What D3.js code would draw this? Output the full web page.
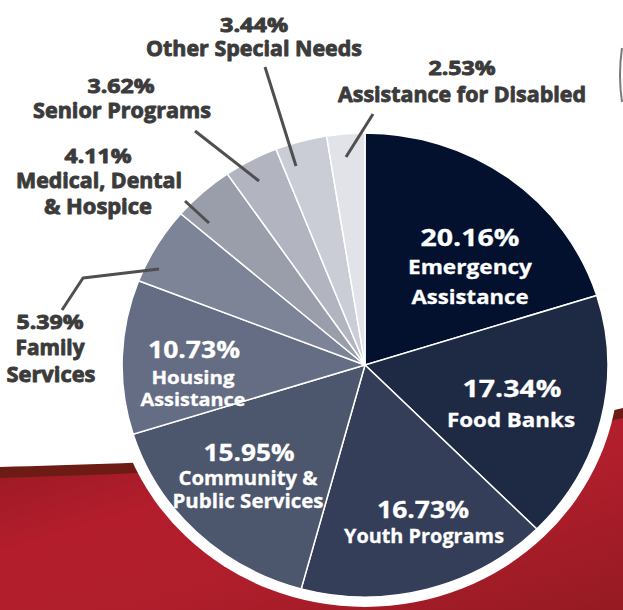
<!DOCTYPE html>
<html>
<head>
<meta charset="utf-8">
<script src="https://cdn.jsdelivr.net/npm/d3@7/dist/d3.min.js"></script>
<style>
  html, body { margin: 0; padding: 0; background: #ffffff; }
  svg { display: block; }
</style>
</head>
<body>
<svg id="chart" width="623" height="610"></svg>
<script>
// ---- data ----
const categories = [
  "Emergency Assistance", "Food Banks", "Youth Programs", "Community & Public Services",
  "Housing Assistance", "Family Services", "Medical, Dental & Hospice", "Senior Programs",
  "Other Special Needs", "Assistance for Disabled"
];
const values = [20.16, 17.34, 16.73, 15.95, 10.73, 5.39, 4.11, 3.62, 3.44, 2.53];
const categoryLines = [
  ["Emergency", "Assistance"], ["Food Banks"], ["Youth Programs"], ["Community &", "Public Services"],
  ["Housing", "Assistance"], ["Family", "Services"], ["Medical, Dental", "& Hospice"], ["Senior Programs"],
  ["Other Special Needs"], ["Assistance for Disabled"]
];
const colors = ["#03112f", "#1e2944", "#343e58", "#4c566d", "#646d83",
                "#7e8497", "#9a9eab", "#b2b5bf", "#cacdd5", "#e2e3e8"];

// ---- layout (label placement: [x, baseline, fontSize, width]) ----
const labelLayout = [
  { inside: true,  pct: [470, 246, 24, 99],  lines: [[470, 274, 20, 124], [470, 304, 20, 117]] },
  { inside: true,  pct: [512, 397, 24, 99],  lines: [[511, 427, 20, 128]] },
  { inside: true,  pct: [423, 518, 24, 92],  lines: [[424, 543, 20, 160]] },
  { inside: true,  pct: [249, 461, 24, 91],  lines: [[248, 485, 19, 139], [248, 508, 19, 151]] },
  { inside: true,  pct: [194, 358, 24, 92],  lines: [[193, 384, 17, 83], [193, 406, 18, 105]] },
  { inside: false, pct: [50, 329, 20, 67],   lines: [[50, 355, 22, 69], [51, 382, 22, 89]] },
  { inside: false, pct: [98, 163, 20, 67],   lines: [[99, 188, 22, 166], [98, 214, 22, 108]] },
  { inside: false, pct: [121, 93, 20, 67],   lines: [[122, 118, 22, 178]] },
  { inside: false, pct: [254, 32, 20, 68],   lines: [[254, 56, 22, 216]] },
  { inside: false, pct: [462, 75, 20, 67],   lines: [[462, 102, 22, 248]] }
];
const leaders = [
  null, null, null, null, null,
  [[62, 310], [83, 278], [159, 269]],
  [[185, 201], [209, 223]],
  [[195, 131], [259, 181]],
  [[265, 67], [296, 166]],
  [[373, 114], [346, 157]]
];

const cx = 365, cy = 365, ry = 232, sx = 1.047;

const svg = d3.select("#chart");
const defs = svg.append("defs");
const grad = defs.append("linearGradient").attr("id", "redGrad")
  .attr("x1", 0).attr("y1", 0).attr("x2", 1).attr("y2", 1);
[["0%", "#8f1820"], ["35%", "#b31d2c"], ["60%", "#b01e2c"], ["100%", "#951a21"]]
  .forEach(s => grad.append("stop").attr("offset", s[0]).attr("stop-color", s[1]));

// background red wave
svg.append("path")
  .attr("d", "M0,467 C180,462 430,455 623,408 L623,610 L0,610 Z")
  .attr("fill", "#6c1b15");
svg.append("path")
  .attr("d", "M0,478 C180,472 430,465 623,418 L623,610 L0,610 Z")
  .attr("fill", "url(#redGrad)");

// small decoration at right edge
svg.append("path").attr("d", "M622,48 Q618,75 622,102")
  .attr("fill", "none").attr("stroke", "#7a7a7a").attr("stroke-width", 2);

// white ring
svg.append("ellipse").attr("cx", cx).attr("cy", cy)
  .attr("rx", ry * sx + 11).attr("ry", ry + 10).attr("fill", "#ffffff");

// pie
const pie = d3.pie().sort(null).value(d => d).startAngle(0).endAngle(2 * Math.PI);
const arcs = pie(values);
const arc = d3.arc().innerRadius(0).outerRadius(ry);
const g = svg.append("g").attr("transform", `translate(${cx},${cy}) scale(${sx},1)`);
g.selectAll("path.slice").data(arcs).join("path")
  .attr("class", "slice")
  .attr("d", arc)
  .attr("fill", (d, i) => colors[i])
  .attr("stroke", "#ffffff")
  .attr("stroke-width", 1.5)
  .attr("vector-effect", "non-scaling-stroke");

// leader lines
const line = d3.line();
leaders.forEach(pts => {
  if (!pts) return;
  svg.append("path").attr("d", line(pts))
    .attr("fill", "none").attr("stroke", "#4f4f4f").attr("stroke-width", 3)
    .attr("stroke-linejoin", "round");
});

// labels
const fmt = v => v.toFixed(2) + "%";
function addText(txt, spec, inside) {
  const [x, y, size, w] = spec;
  const col = inside ? "#ffffff" : "#3b3b3b";
  svg.append("text")
    .attr("x", x).attr("y", y)
    .attr("text-anchor", "middle")
    .attr("font-family", "'Open Sans', 'DejaVu Sans', sans-serif")
    .attr("font-weight", 700)
    .attr("font-size", size)
    .attr("fill", col)
    .attr("stroke", col)
    .attr("stroke-width", inside ? 0.3 : 0.9)
    .attr("stroke-linejoin", "round")
    .attr("textLength", w)
    .attr("lengthAdjust", "spacingAndGlyphs")
    .text(txt);
}
values.forEach((v, i) => {
  const L = labelLayout[i];
  addText(fmt(v), L.pct, L.inside);
  categoryLines[i].forEach((t, j) => addText(t, L.lines[j], L.inside));
});
</script>
</body>
</html>
